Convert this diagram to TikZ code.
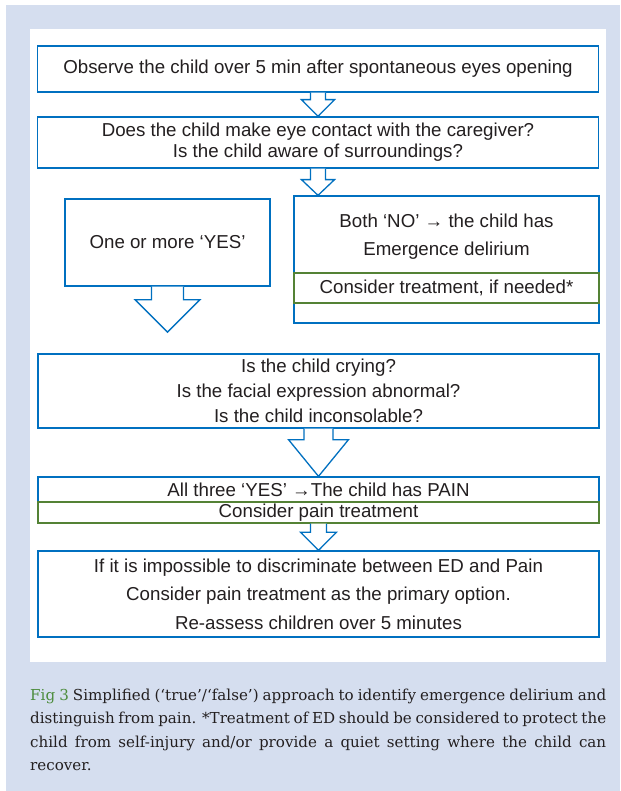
\documentclass[tikz,border=0pt]{standalone}
\usepackage{fontspec}
\setmainfont{Liberation Sans}
\newfontfamily\capfont{DejaVu Serif}
\usetikzlibrary{calc,positioning}

\definecolor{panelblue}{RGB}{213,222,239}
\definecolor{edblue}{RGB}{0,112,192}
\definecolor{edgreen}{RGB}{84,130,53}
\definecolor{txtgray}{RGB}{35,31,32}
\definecolor{figgreen}{RGB}{76,140,60}

\newcommand{\boxfont}{\fontsize{18.7}{21}\selectfont}
\newcommand{\capstyle}{\capfont\fontsize{15.1}{23.3}\selectfont
	\spaceskip=0.3em plus 0.3em minus 0.12em\relax}
\newcommand{\capline}[1]{\hbox to 576pt{#1}}
% hollow block arrow: start, tip, shaft half width, head half width, neck depth
\newcommand{\hollowarrow}[5]{%
	\draw [arrowline] ($(#1)+(-#3,0)$) -- ($(#1)+(-#3,#5)$) -- ($(#1)+(-#4,#5)$)
		-- (#2) -- ($(#1)+(#4,#5)$) -- ($(#1)+(#3,#5)$) -- ($(#1)+(#3,0)$);}

\begin{document}
\begin{tikzpicture}[x=1pt, y=-1pt,
	box/.style={rectangle, draw=edblue, line width=1.3pt, inner sep=0pt,
		minimum width=561, align=center, text=txtgray, font=\boxfont},
	greenbox/.style={box, draw=edgreen},
	plain/.style={inner sep=0pt, align=center, text=txtgray, font=\boxfont},
	arrowline/.style={draw=edblue, line width=1.3pt, fill=white, miter limit=10}]

	% Panels
	\useasboundingbox (0,0) rectangle (620,791);
	\fill [panelblue] (6,5) rectangle (620,791);
	\fill [white] (30,29) rectangle (606,662);

	% Boxes {observe, eye contact, yes, no, crying, pain, final}
	\node [box, minimum height=46]	(obsBox)	at (318,69)
	{Observe the child over 5 min after spontaneous eyes opening};
	\node [box, minimum height=51]	(eyeBox)	at (318,142.5)
	{Does the child make eye contact with the caregiver?\\Is the child aware of surroundings?};

	\node [box, minimum width=205, minimum height=87]	(yesBox)	at (167.5,242.5)
	{One or more ‘YES’};
	\node [box, minimum width=305, minimum height=127]	(noBox)		at (446.5,259.5) {};
	\node [plain]	(noText)	at (446.5,237)
	{Both ‘NO’ → the child has\\[7pt]Emergence delirium};
	\node [greenbox, minimum width=305, minimum height=30]	(edTreat)	at (446.5,288)
	{Consider treatment, if needed*};

	\node [box, minimum height=74]	(cryBox)	at (318.5,391)
	{Is the child crying?\\[4pt]Is the facial expression abnormal?\\[4pt]Is the child inconsolable?};

	\node [box, minimum height=25]	(painBox)	at (318.5,489.5)
	{All three ‘YES’ →The child has PAIN};
	\node [greenbox, minimum height=21]	(painTreat)	at (318.5,512.5)
	{Consider pain treatment};

	\node [box, minimum height=86]	(finalBox)	at (318.5,594)
	{If it is impossible to discriminate between ED and Pain\\[7.5pt]Consider pain treatment as the primary option.\\[7.5pt]Re-assess children over 5 minutes};

	% Arrows
	\coordinate (yesTip) at ($(yesBox.south)+(0,45.5)$);
	\hollowarrow{obsBox.south}{obsBox.south |- eyeBox.north}{7.5}{16.5}{7}
	\hollowarrow{eyeBox.south}{eyeBox.south |- noBox.north}{7.5}{16.5}{11}
	\hollowarrow{yesBox.south}{yesTip}{16}{32.5}{13}
	\hollowarrow{cryBox.south}{cryBox.south |- painBox.north}{14.5}{30}{11}
	\hollowarrow{painTreat.south}{painTreat.south |- finalBox.north}{8}{18}{8.5}

	% Caption
	\node [anchor=north west, inner sep=0pt, align=left, text=txtgray, font=\capstyle]
		(figCap)	at (30,689)
	{\capline{\textcolor{figgreen}{Fig 3} Simplified (‘true’/‘false’) approach to identify emergence delirium and}\\
	\capline{distinguish from pain. *Treatment of ED should be considered to protect the}\\
	\capline{child from self-injury and/or provide a quiet setting where the child can}\\
	recover.};

\end{tikzpicture}
\end{document}
